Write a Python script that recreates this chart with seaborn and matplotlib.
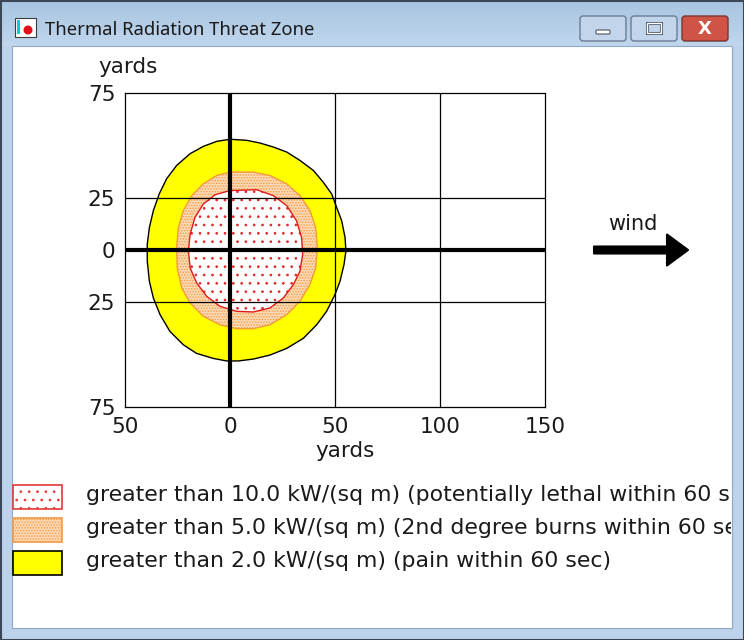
import matplotlib
matplotlib.use("Agg")
import matplotlib.pyplot as plt
from matplotlib.patches import Rectangle, FancyBboxPatch, FancyArrow, Circle
import numpy as np
import pandas as pd
import seaborn as sns

# threat zone outlines (yards downwind, yards crosswind)
yellow_x = [0, 7.9, 14.3, 20.6, 27.0, 33.3, 39.7, 44.4, 48.4, 50.8, 53.2, 54.8, 55.2, 54.3,
            52.4, 50.0, 46.0, 41.3, 34.9, 27.0, 19.0, 11.1, 4.0, -1.6, -7.9, -15.9, -22.2,
            -28.6, -33.3, -36.5, -38.4, -39.4, -39.4, -38.4, -36.5, -33.7, -30.2, -25.4,
            -19.0, -12.7, -6.3]
yellow_y = [52.9, 52.4, 51.1, 49.2, 46.8, 42.8, 38.0, 32.4, 26.8, 20.3, 13.9, 5.9, -0.5, -6.9,
            -14.9, -21.3, -29.3, -35.7, -42.2, -47.0, -50.2, -52.1, -53.0, -53.0, -51.8,
            -49.4, -45.3, -38.9, -30.9, -22.9, -14.9, -5.3, 2.7, 10.7, 18.8, 26.8, 34.0,
            40.4, 46.0, 49.5, 51.9]

orange_x = [0, 11.1, 19.0, 27.0, 33.3, 38.1, 40.8, 41.6, 40.8, 38.1, 33.3, 27.0, 19.0, 11.1,
            3.2, -4.8, -12.7, -19.0, -23.0, -25.1, -25.4, -24.6, -22.2, -18.2, -12.7, -6.3]
orange_y = [37.2, 37.2, 35.6, 31.6, 26.0, 18.8, 10.7, 1.1, -8.5, -16.5, -24.5, -30.9, -35.7,
            -37.6, -37.6, -35.7, -31.7, -25.3, -18.1, -8.5, 1.1, 10.7, 18.8, 26.0, 31.6, 35.6]

red_x = [0, 12.7, 20.6, 27.0, 31.7, 34.1, 34.6, 33.3, 30.2, 25.4, 19.0, 11.1, 3.2, -4.8,
         -11.1, -15.9, -19.0, -19.8, -19.0, -16.7, -12.7, -7.1]
red_y = [28.4, 28.8, 26.0, 21.2, 13.9, 5.9, -2.1, -10.1, -16.5, -22.9, -27.7, -29.6, -29.3,
         -26.9, -22.1, -15.7, -8.5, -0.5, 7.5, 15.5, 22.0, 26.4]

zone_labels = [
    "greater than 10.0 kW/(sq m) (potentially lethal within 60 sec)",
    "greater than 5.0 kW/(sq m) (2nd degree burns within 60 sec)",
    "greater than 2.0 kW/(sq m) (pain within 60 sec)",
]

x_ticks = [-50, 0, 50, 100, 150]
x_tick_labels = ["50", "0", "50", "100", "150"]
y_ticks = [75, 25, 0, -25, -75]
y_tick_labels = ["75", "25", "0", "25", "75"]
x_grid = [50, 100]
y_grid = [25, -25]

sns.set_theme(style="white")
plt.rcParams["font.family"] = ["DejaVu Sans"]
plt.rcParams["hatch.linewidth"] = 0.7

W, H = 744, 640
fig = plt.figure(figsize=(W / 100, H / 100), dpi=100)
fig.patch.set_facecolor("#bcd3eb")


def px_rect(x0, y0, x1, y1):
    # pixel box (origin top-left) -> figure fraction rect
    return [x0 / W, 1 - y1 / H, (x1 - x0) / W, (y1 - y0) / H]


# ---- window chrome ----
bg = fig.add_axes([0, 0, 1, 1])
grad = np.linspace(0, 1, 46)[:, None, None]
top_c = np.array([0.66, 0.77, 0.88])
bot_c = np.array([0.75, 0.84, 0.93])
bg.imshow(top_c * (1 - grad) + bot_c * grad, extent=[0, W, 46, 0], aspect="auto", zorder=0)
bg.set_xlim(0, W)
bg.set_ylim(H, 0)
bg.axis("off")

bg.add_patch(Rectangle((0.5, 0.5), W - 1, H - 1, fill=False, ec="#3b4756", lw=1.5, zorder=1))
bg.add_patch(Rectangle((12, 46), 720, 582, fc="white", ec="#8ea8c6", lw=0.8, zorder=1))

# title icon
bg.add_patch(Rectangle((15, 18), 21, 19, fc="white", ec="#3c3c3c", lw=0.8, zorder=2))
bg.add_patch(Circle((28, 30), 4.5, fc="#e0101a", ec="none", zorder=3))
bg.add_patch(Rectangle((17, 20), 3, 14, fc="#10c8d8", ec="none", zorder=3))
bg.text(45, 30, "Thermal Radiation Threat Zone", fontsize=13.3, family=["Noto Sans", "DejaVu Sans"],
        color="#1a1a1a", va="center", ha="left", zorder=3)

for (bx0, bx1, fc, ec) in [(580, 626, "#c3d5ea", "#6b7d95"),
                           (631, 677, "#c3d5ea", "#6b7d95"),
                           (682, 728, "#cf5446", "#7b3530")]:
    bg.add_patch(FancyBboxPatch((bx0, 16), bx1 - bx0, 25, boxstyle="round,pad=0,rounding_size=3",
                                fc=fc, ec=ec, lw=1, zorder=2))
bg.add_patch(FancyBboxPatch((596, 30), 14, 4, boxstyle="round,pad=0,rounding_size=1",
                            fc="white", ec="#4a5568", lw=0.8, zorder=3))
bg.add_patch(Rectangle((647, 23), 14, 10, fc="none", ec="#4a5568", lw=2.2, zorder=3))
bg.add_patch(Rectangle((647, 23), 14, 10, fc="none", ec="white", lw=1.0, zorder=3))
bg.text(705, 28.5, "X", fontsize=13, fontweight="bold", color="white", ha="center", va="center",
        zorder=3)

# ---- threat zone plot ----
ax = fig.add_axes(px_rect(125, 93, 545, 407))
ax.set_facecolor("white")
ax.fill(yellow_x, yellow_y, facecolor="#ffff00", lw=0, zorder=1)
ax.fill(orange_x, orange_y, facecolor="#fcd9b3", edgecolor="#f29a48", hatch="......", lw=0, zorder=2)
ax.fill(red_x, red_y, facecolor="white", edgecolor="#e02828", hatch="..", lw=0, zorder=3)

for xs, ys, col, lw in [(yellow_x, yellow_y, "black", 1.0),
                        (orange_x, orange_y, "#f39a3c", 1.0),
                        (red_x, red_y, "#e01a1a", 1.0)]:
    outline = pd.DataFrame({"x": xs + xs[:1], "y": ys + ys[:1]})
    sns.lineplot(data=outline, x="x", y="y", sort=False, estimator=None, color=col, lw=lw,
                 ax=ax, zorder=4)

for gx in x_grid:
    ax.axvline(gx, color="black", lw=0.9, zorder=5)
for gy in y_grid:
    ax.axhline(gy, color="black", lw=0.9, zorder=5)
ax.axvline(0, color="black", lw=3.0, zorder=6)
ax.axhline(0, color="black", lw=3.0, zorder=6)

ax.set_xlim(-50, 150)
ax.set_ylim(-75, 75)
ax.set_xticks(x_ticks, x_tick_labels)
ax.set_yticks(y_ticks, y_tick_labels)
ax.set_xlabel("")
ax.set_ylabel("")
ax.tick_params(length=0, pad=7, labelsize=15.5, colors="#1a1a1a")
for sp in ax.spines.values():
    sp.set_color("black")
    sp.set_linewidth(0.9)

bg.text(128, 67, "yards", fontsize=15.5, color="#1a1a1a", ha="center", va="center", zorder=3)
bg.text(345, 451, "yards", fontsize=15.5, color="#1a1a1a", ha="center", va="center", zorder=3)

# wind arrow
bg.text(633, 224, "wind", fontsize=15, color="#1a1a1a", ha="center", va="center", zorder=3)
bg.add_patch(FancyArrow(594, 250, 94, 0, width=7, head_width=31, head_length=21,
                        length_includes_head=True, fc="black", ec="black", lw=1.5,
                        joinstyle="round", capstyle="round", zorder=3))

# ---- legend (text runs past the window edge, as in the original) ----
leg = fig.add_axes(px_rect(12, 470, 731, 627))
leg.set_xlim(12, 731)
leg.set_ylim(627, 470)
leg.axis("off")
swatches = [dict(fc="white", ec="#e23a3a", hatch=".."),
            dict(fc="#fcd9b3", ec="#f29a48", hatch="......"),
            dict(fc="#ffff00", ec="black", hatch=None)]
for i, (label, sw) in enumerate(zip(zone_labels, swatches)):
    y0 = 485 + i * 33
    leg.add_patch(Rectangle((13, y0), 49, 24, lw=1.2, **sw))
    leg.text(86, y0 + 10, label, fontsize=15.8, color="#1a1a1a", ha="left", va="center",
             clip_on=True)

fig.savefig("out.png", dpi=100, facecolor=fig.get_facecolor())
